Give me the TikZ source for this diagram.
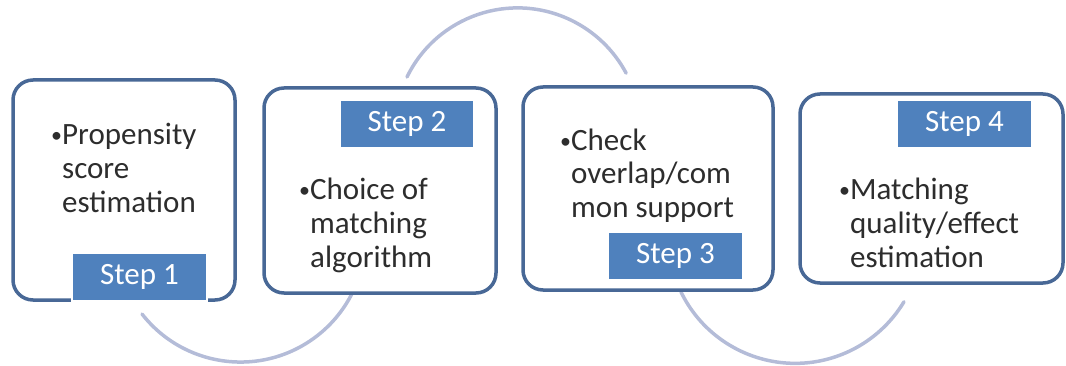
\documentclass[tikz,border=0pt]{standalone}
\usepackage{fontspec}
\setmainfont{Carlito}
\definecolor{boxline}{RGB}{72,104,150}
\definecolor{tabfill}{RGB}{79,129,189}
\definecolor{arcline}{RGB}{180,188,216}
\definecolor{bodytext}{RGB}{45,45,45}
\newcommand{\smbullet}{\raisebox{2pt}{\fontsize{22}{22}\selectfont\textbullet}}
\tikzset{
  stepbox/.style={draw=boxline, line width=3.5pt, fill=white, rounded corners=20pt, inner sep=0pt},
  steptab/.style={fill=tabfill, draw=white, line width=2.5pt, text=white, minimum width=135pt,
    minimum height=49pt, inner sep=0pt, font=\fontsize{31}{34}\selectfont},
  steptext/.style={anchor=base west, inner sep=0pt, text=bodytext, font=\fontsize{31}{34}\selectfont},
  looparc/.style={draw=arcline, line width=3.5pt, line cap=round}
}
\begin{document}
\begin{tikzpicture}[x=1pt,y=1pt]
      \useasboundingbox (0,0) rectangle (1066,365);
      \coordinate (a1) at (142,51);
      \coordinate (a2) at (407,288);
      \coordinate (a3) at (681,73);
      \draw[looparc] (a1) arc[start angle=218, end angle=335, radius=125];
      \draw[looparc] (a2) arc[start angle=154, end angle=28, radius=123];
      \draw[looparc] (a3) arc[start angle=206, end angle=329, radius=127];
      \node[stepbox, minimum width=222pt, minimum height=220pt] (box1) at (124,175) {};
      \node[stepbox, minimum width=232pt, minimum height=205pt] (box2) at (380,174.5) {};
      \node[stepbox, minimum width=250pt, minimum height=203pt] (box3) at (648,176.5) {};
      \node[stepbox, minimum width=263pt, minimum height=189pt] (box4) at (931.5,176.5) {};
      \node[steptab] (tab1) at (139.5,88) {Step 1};
      \node[steptab] (tab2) at (407,241) {Step 2};
      \node[steptab] (tab3) at (675.5,109) {Step 3};
      \node[steptab] (tab4) at (964.5,241) {Step 4};
      \node[steptext] (txt1) at (51,221)
        {\begin{tabular}[t]{@{}l@{}l@{}}\smbullet&Propensity\\&score\\&estimation\end{tabular}};
      \node[steptext] (txt2) at (299,166)
        {\begin{tabular}[t]{@{}l@{}l@{}}\smbullet&Choice of\\&matching\\&algorithm\end{tabular}};
      \node[steptext] (txt3) at (560,215)
        {\begin{tabular}[t]{@{}l@{}l@{}}\smbullet&Check\\&overlap/com\\&mon support\end{tabular}};
      \node[steptext] (txt4) at (839,166)
        {\begin{tabular}[t]{@{}l@{}l@{}}\smbullet&Matching\\&quality/effect\\&estimation\end{tabular}};
\end{tikzpicture}
\end{document}
